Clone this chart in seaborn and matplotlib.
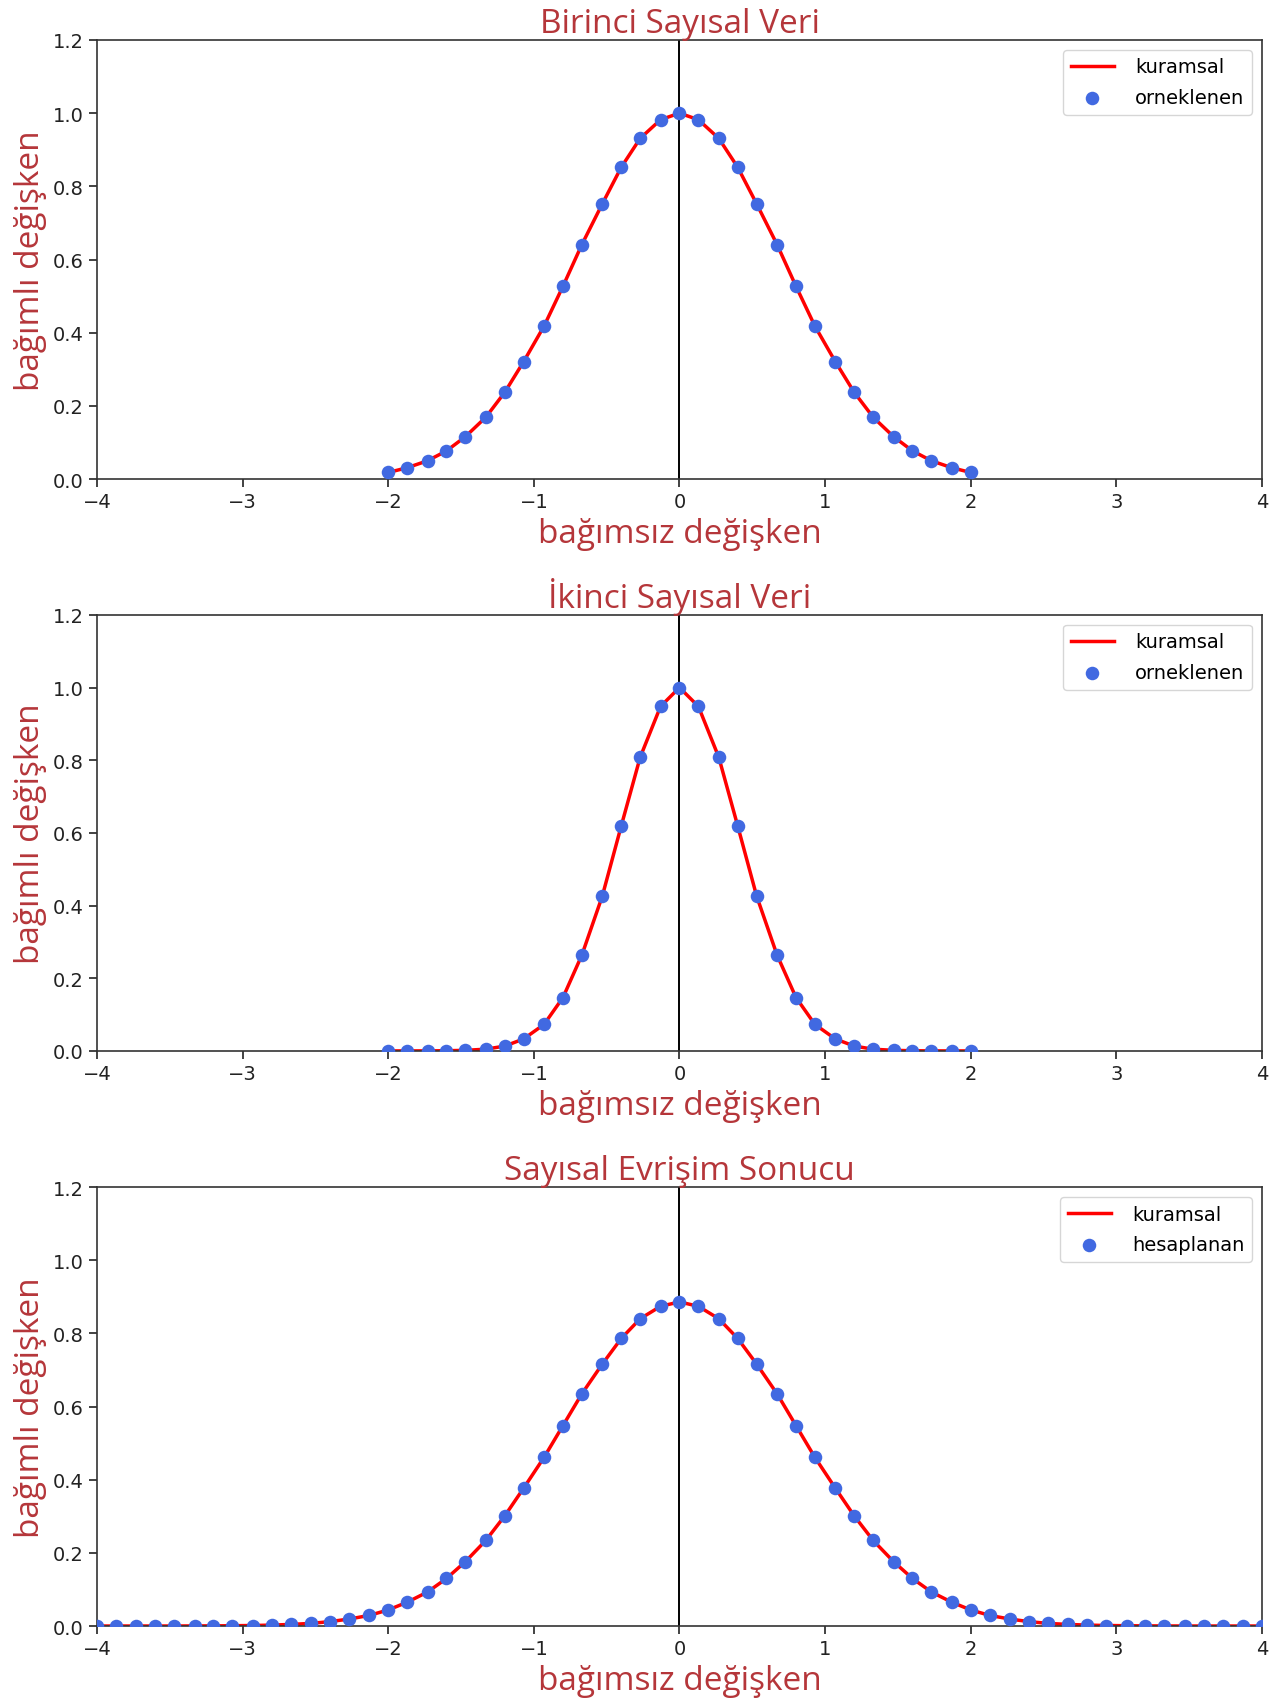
import matplotlib

matplotlib.use("Agg")

import matplotlib.pyplot as plt
import pandas as pd
import seaborn as sns

# sample positions and values
x_short = [-2.0, -1.87, -1.73, -1.6, -1.47, -1.33, -1.2, -1.07, -0.93, -0.8, -0.67,
           -0.53, -0.4, -0.27, -0.13, 0.0, 0.13, 0.27, 0.4, 0.53, 0.67, 0.8, 0.93,
           1.07, 1.2, 1.33, 1.47, 1.6, 1.73, 1.87, 2.0]

y_first = [0.018, 0.031, 0.050, 0.077, 0.116, 0.169, 0.237, 0.321, 0.418, 0.527, 0.641,
           0.752, 0.852, 0.931, 0.982, 1.0, 0.982, 0.931, 0.852, 0.752, 0.641, 0.527,
           0.418, 0.321, 0.237, 0.169, 0.116, 0.077, 0.050, 0.031, 0.018]

y_second = [0.0, 0.0, 0.0001, 0.0005, 0.0016, 0.0048, 0.0133, 0.033, 0.073, 0.147, 0.264,
            0.426, 0.619, 0.808, 0.948, 1.0, 0.948, 0.808, 0.619, 0.426, 0.264, 0.147,
            0.073, 0.033, 0.0133, 0.0048, 0.0016, 0.0005, 0.0001, 0.0, 0.0]

x_long = [-4.0, -3.87, -3.73, -3.6, -3.47, -3.33, -3.2, -3.07, -2.93, -2.8, -2.67, -2.53,
          -2.4, -2.27, -2.13, -2.0, -1.87, -1.73, -1.6, -1.47, -1.33, -1.2, -1.07, -0.93,
          -0.8, -0.67, -0.53, -0.4, -0.27, -0.13, 0.0, 0.13, 0.27, 0.4, 0.53, 0.67, 0.8,
          0.93, 1.07, 1.2, 1.33, 1.47, 1.6, 1.73, 1.87, 2.0, 2.13, 2.27, 2.4, 2.53, 2.67,
          2.8, 2.93, 3.07, 3.2, 3.33, 3.47, 3.6, 3.73, 3.87, 4.0]

y_conv = [0.0, 0.0, 0.0, 0.0, 0.0, 0.0002, 0.0004, 0.0008, 0.0014, 0.0025, 0.0043, 0.0072,
          0.012, 0.019, 0.029, 0.044, 0.065, 0.093, 0.130, 0.176, 0.234, 0.301, 0.377,
          0.461, 0.548, 0.635, 0.716, 0.786, 0.840, 0.874, 0.886, 0.874, 0.840, 0.786,
          0.716, 0.635, 0.548, 0.461, 0.377, 0.301, 0.234, 0.176, 0.130, 0.093, 0.065,
          0.044, 0.029, 0.019, 0.012, 0.0072, 0.0043, 0.0025, 0.0014, 0.0008, 0.0004,
          0.0002, 0.0, 0.0, 0.0, 0.0, 0.0]

titles = ["Birinci Sayısal Veri", "İkinci Sayısal Veri", "Sayısal Evrişim Sonucu"]
point_labels = ["orneklenen", "orneklenen", "hesaplanan"]
line_label = "kuramsal"
x_label = "bağımsız değişken"
y_label = "bağımlı değişken"
x_ticks = [-4, -3, -2, -1, 0, 1, 2, 3, 4]
y_ticks = [0.0, 0.2, 0.4, 0.6, 0.8, 1.0, 1.2]

TEXT_RED = "#b5363a"
LABEL_FONT = ["Open Sans", "DejaVu Sans"]

plt.rcParams["font.family"] = ["DejaVu Sans"]

fig = plt.figure(figsize=(12.83, 17.06), dpi=100)
panels = [
    (x_short, y_first, [0.0756, 0.7186, 0.908, 0.2574]),
    (x_short, y_second, [0.0756, 0.3834, 0.908, 0.2556]),
    (x_long, y_conv, [0.0756, 0.0463, 0.908, 0.2573]),
]

for (xs, ys, rect), title, pt_label in zip(panels, titles, point_labels):
    ax = fig.add_axes(rect)
    df = pd.DataFrame({"x": xs, "y": ys})
    sns.lineplot(data=df, x="x", y="y", ax=ax, color="red", linewidth=2.5,
                 label=line_label, zorder=2)
    sns.scatterplot(data=df, x="x", y="y", ax=ax, color="royalblue", s=95,
                    linewidth=0, label=pt_label, zorder=3)
    ax.axvline(0, color="black", linewidth=1.4, zorder=1)

    ax.set_xlim(-4, 4)
    ax.set_ylim(0, 1.2)
    ax.set_xticks(x_ticks)
    ax.set_xticklabels([f"{t}".replace("-", "\u2212") for t in x_ticks])
    ax.set_yticks(y_ticks)
    ax.set_yticklabels([f"{t:.1f}" for t in y_ticks])
    ax.tick_params(labelsize=14, length=6, width=1.2, colors="#222222")
    for spine in ax.spines.values():
        spine.set_linewidth(1.2)
        spine.set_color("#333333")

    ax.set_title(title, color=TEXT_RED, fontsize=24, family=LABEL_FONT, pad=2)
    ax.set_xlabel(x_label, color=TEXT_RED, fontsize=24, family=LABEL_FONT, labelpad=4)
    ax.set_ylabel(y_label, color=TEXT_RED, fontsize=24, family=LABEL_FONT, labelpad=4)

    ax.legend(loc="upper right", fontsize=14, frameon=True, handlelength=2.2,
              handletextpad=1.1, labelspacing=0.6)

fig.savefig("out.png", dpi=100)
plt.close(fig)
